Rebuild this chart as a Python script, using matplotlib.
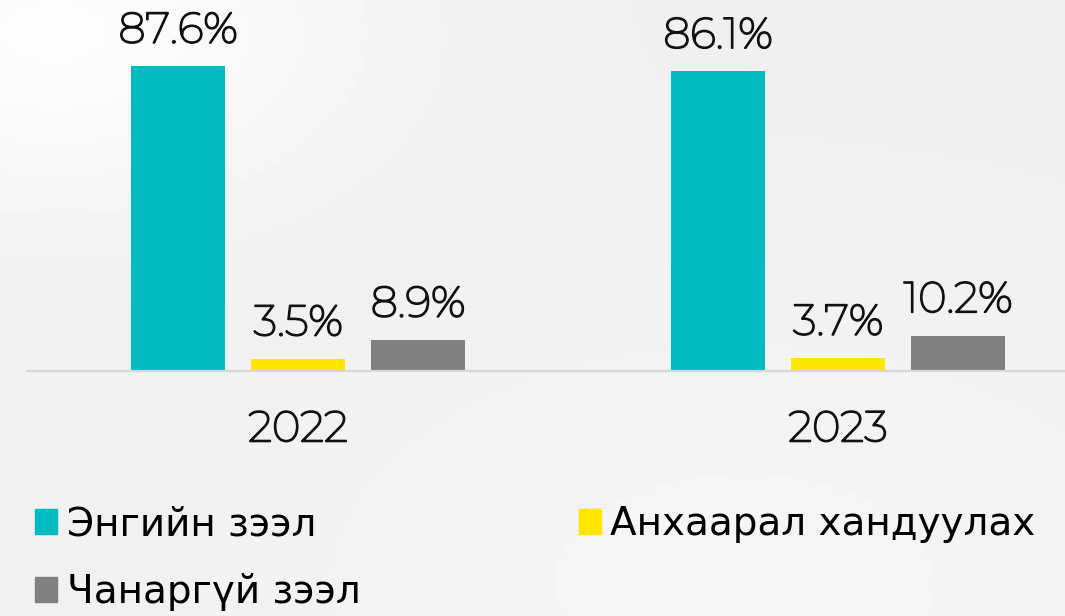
import numpy as np
import matplotlib.pyplot as plt
import matplotlib.patheffects as pe
from matplotlib.patches import Patch

# data
years = ["2022", "2023"]
series_names = ["Энгийн зээл", "Анхаарал хандуулах", "Чанаргүй зээл"]
normal = [87.6, 86.1]
watch = [3.5, 3.7]
bad = [8.9, 10.2]
colors = ["#00bbc2", "#ffe500", "#808080"]

NUM_FONT = ["Montserrat", "Lato", "DejaVu Sans"]
LEG_FONT = ["Liberation Sans Narrow", "DejaVu Sans Condensed", "DejaVu Sans"]
# the installed Montserrat is very thin, thicken it a bit
thick = [pe.withStroke(linewidth=1.3, foreground="#111111")]

fig = plt.figure(figsize=(10.65, 6.16), dpi=100)

# soft grey background
bg = fig.add_axes([0, 0, 1, 1], zorder=-10)
yy, xx = np.mgrid[0:1:200j, 0:1:300j]
shade = 0.94 + 0.05 * np.exp(-((xx - 0.05) ** 2 + (yy - 0.05) ** 2) / 0.08) \
    + 0.02 * np.exp(-((xx - 0.7) ** 2 + (yy - 0.95) ** 2) / 0.2)
shade = np.clip(shade, 0, 1)
bg.imshow(shade, cmap="gray", vmin=0, vmax=1, aspect="auto", interpolation="bilinear")
bg.axis("off")

ax = fig.add_axes([0.0254, 0.3977, 0.9746, 0.565])
ax.set_facecolor("none")

x = np.arange(len(years))
w = 0.174
off = 0.2222
for i, (vals, c) in enumerate(zip([normal, watch, bad], colors)):
    bars = ax.bar(x + (i - 1) * off, vals, width=w, color=c, zorder=2)
    for b, v in zip(bars, vals):
        ax.annotate(f"{v}%", (b.get_x() + b.get_width() / 2, v),
                    xytext=(0, 11), textcoords="offset points",
                    ha="center", va="bottom", fontsize=31,
                    family=NUM_FONT, color="#111111", path_effects=thick)

ax.set_xlim(-0.5019, 1.4204)
ax.set_ylim(0, 100)
ax.set_xticks(x)
ax.set_xticklabels(years, fontsize=31, family=NUM_FONT, color="#111111",
                   path_effects=thick)
ax.tick_params(axis="x", length=0, pad=28)
ax.set_yticks([])
for s in ["top", "right", "left"]:
    ax.spines[s].set_visible(False)
ax.spines["bottom"].set_color("#d6d6d6")
ax.spines["bottom"].set_linewidth(1.6)

handles = [Patch(color=colors[0], label=series_names[0]),
           Patch(color=colors[2], label=series_names[2]),
           Patch(color=colors[1], label=series_names[1])]
fig.legend(handles=handles, ncol=2, loc="upper left",
           bbox_to_anchor=(0.033, 0.18), frameon=False,
           prop={"family": LEG_FONT, "size": 28},
           handlelength=0.57, handleheight=0.62, handletextpad=0.25,
           labelspacing=0.78, columnspacing=5.6, borderaxespad=0, borderpad=0)

fig.savefig("out.png", dpi=100)
